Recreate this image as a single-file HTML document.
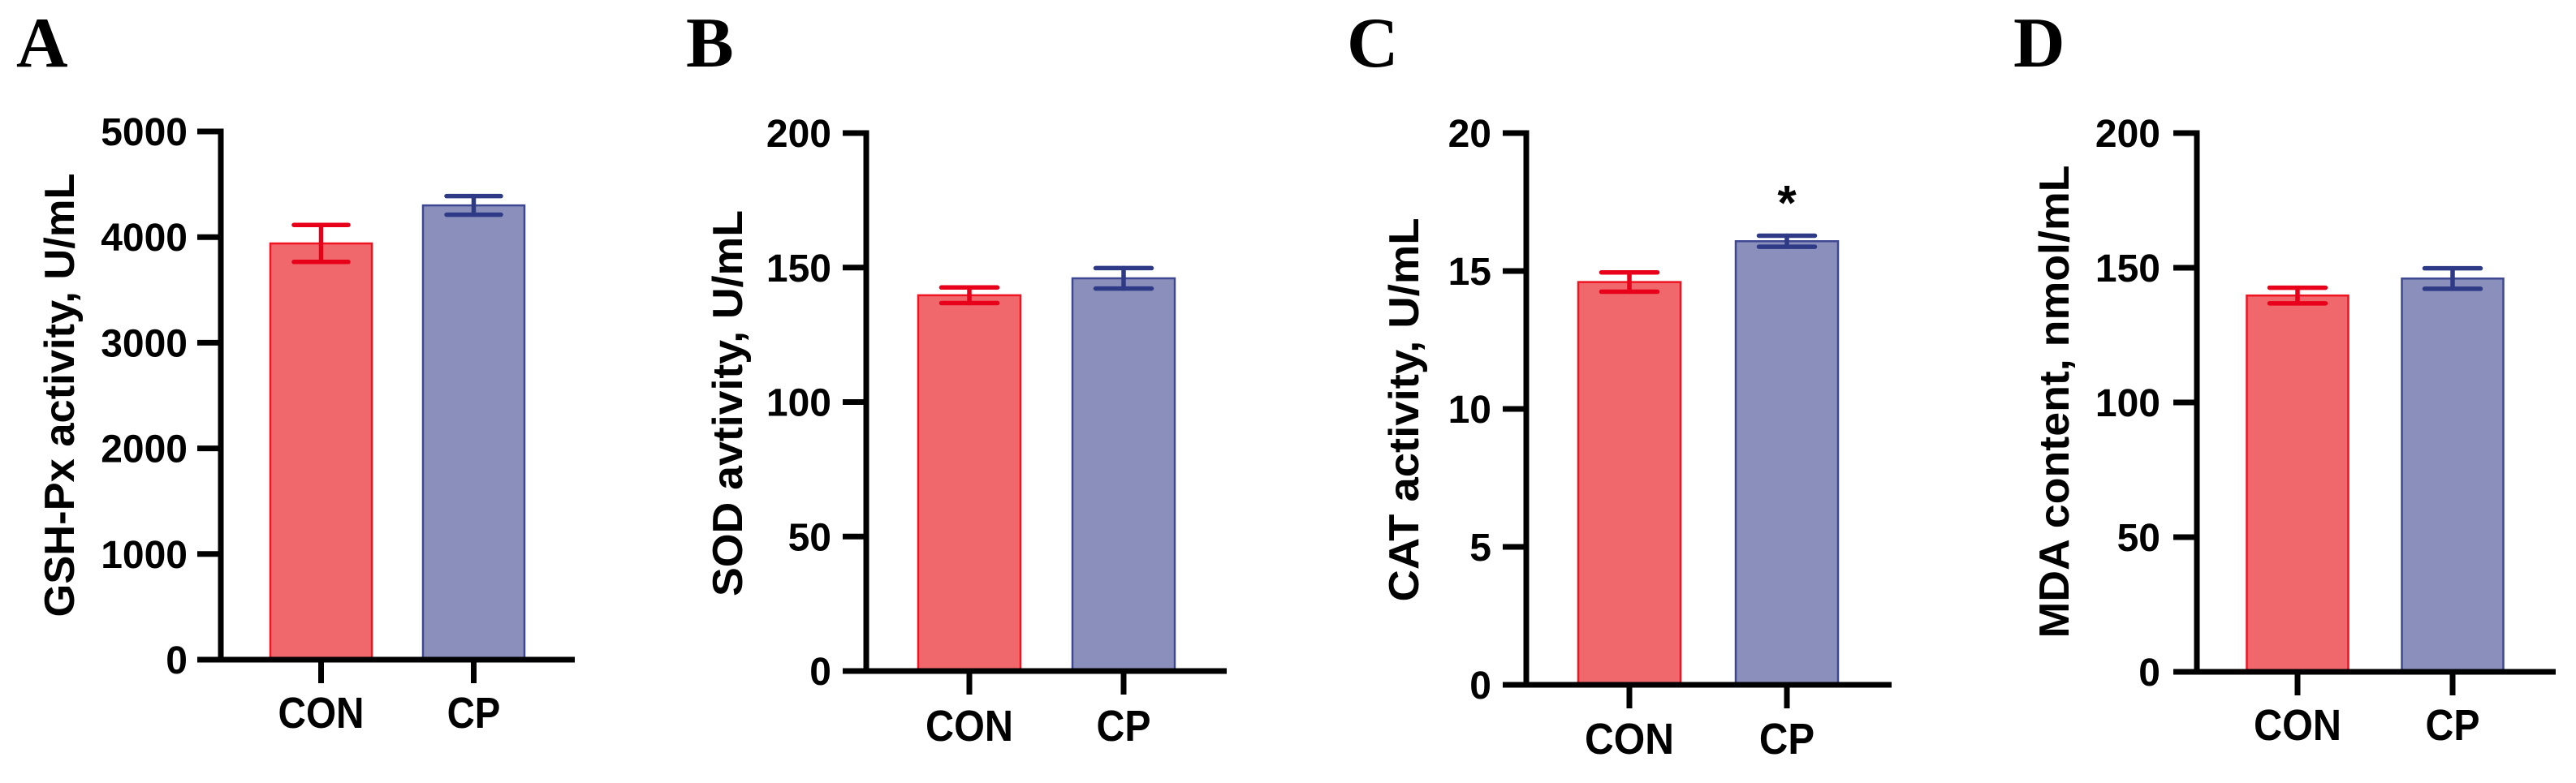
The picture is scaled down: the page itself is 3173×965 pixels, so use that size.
<!DOCTYPE html>
<html><head><meta charset="utf-8"><style>
html,body{margin:0;padding:0;background:#fff;}
svg{display:block;}
</style></head><body>
<svg id="fig" width="3173" height="965" viewBox="0 0 3173 965" xmlns="http://www.w3.org/2000/svg"></svg>
<script>
const categories = ["CON", "CP"];
const panelLetters = ["A", "B", "C", "D"];
const panelTitles = ["GSH-Px activity, U/mL", "SOD avtivity, U/mL", "CAT activity, U/mL", "MDA content, nmol/mL"];
const gshMeans = [3940, 4300];
const gshErr = [175, 88];
const gshTicks = [0, 1000, 2000, 3000, 4000, 5000];
const sodMeans = [139.7, 146];
const sodErr = [2.9, 3.8];
const sodTicks = [0, 50, 100, 150, 200];
const catMeans = [14.6, 16.08];
const catErr = [0.35, 0.2];
const catTicks = [0, 5, 10, 15, 20];
const mdaMeans = [139.7, 146];
const mdaErr = [2.9, 3.8];
const mdaTicks = [0, 50, 100, 150, 200];
const catSig = ["", "*"];

const NS = "http://www.w3.org/2000/svg";
const svg = document.getElementById("fig");
function mk(tag, attrs, parent) {
  const e = document.createElementNS(NS, tag);
  for (const k in attrs) e.setAttribute(k, attrs[k]);
  (parent || svg).appendChild(e);
  return e;
}
const fills = ["#f0686c", "#8a90bb"];
const strokes = ["#ee1422", "#3e4792"];
const errCols = ["#e8001a", "#2e3a86"];

const layouts = [
  {ax:272, y0:813, yTop:162, xEnd:708, cx:[395.5,583.5], bw:125, cap:67, lr:231, tcx:74, tcy:487, tlen:547, tfs:52, xb:897, lx:20, xlw:106},
  {ax:1067, y0:827, yTop:164, xEnd:1511, cx:[1194,1384], bw:126, cap:69, lr:1024, tcx:897, tcy:497, tlen:476, tfs:52, xb:913, lx:845, xlw:108},
  {ax:1880, y0:844, yTop:164, xEnd:2330, cx:[2007,2201], bw:126, cap:69, lr:1837, tcx:1730, tcy:505, tlen:473, tfs:52, xb:929, lx:1659, xlw:110},
  {ax:2706, y0:828, yTop:164, xEnd:3148, cx:[2830,3021], bw:125, cap:69, lr:2661, tcx:2531, tcy:495, tlen:583, tfs:52, xb:912, lx:2480, xlw:108}
];
const panelData = [
  {means:gshMeans, err:gshErr, ticks:gshTicks, sig:["",""]},
  {means:sodMeans, err:sodErr, ticks:sodTicks, sig:["",""]},
  {means:catMeans, err:catErr, ticks:catTicks, sig:catSig},
  {means:mdaMeans, err:mdaErr, ticks:mdaTicks, sig:["",""]}
];
const FONT = "'Liberation Sans', Arial, sans-serif";

layouts.forEach((L, p) => {
  const D = panelData[p];
  const g = mk("g", {});
  
  
  const yMax = D.ticks[D.ticks.length - 1];
  const y = v => L.y0 - (v / yMax) * (L.y0 - L.yTop);

  const letter = mk("text", {x:L.lx, y:82, "font-family":"'Liberation Serif', 'Times New Roman', serif", "font-weight":"bold", "font-size":88, fill:"#000"}, g);
  letter.textContent = panelLetters[p];
  
  

  D.means.forEach((m, i) => {
    const r = mk("rect", {x:L.cx[i] - L.bw/2, y:y(m), width:L.bw, height:L.y0 - y(m), fill:fills[i], stroke:strokes[i], "stroke-width":2.5}, g);
    
    
    const eg = mk("g", {stroke:errCols[i], "stroke-width":5.5, "stroke-linecap":"round"}, g);
    
    
    const hi = y(m + D.err[i]), lo = y(m - D.err[i]);
    mk("line", {x1:L.cx[i], x2:L.cx[i], y1:hi, y2:lo}, eg);
    mk("line", {x1:L.cx[i] - L.cap/2, x2:L.cx[i] + L.cap/2, y1:hi, y2:hi}, eg);
    mk("line", {x1:L.cx[i] - L.cap/2, x2:L.cx[i] + L.cap/2, y1:lo, y2:lo}, eg);
    if (D.sig[i]) {
      const s = mk("text", {x:L.cx[i], y:hi - 20, "text-anchor":"middle", "font-family":FONT, "font-weight":"bold", "font-size":60, fill:"#000"}, g);
      s.textContent = D.sig[i];
      
      
    }
    const tk = mk("line", {x1:L.cx[i], x2:L.cx[i], y1:L.y0, y2:L.y0 + 29, stroke:"#000", "stroke-width":7}, g);
    
    
    const xl = mk("text", {x:L.cx[i], y:L.xb, "text-anchor":"middle", "font-family":FONT, "font-weight":"bold", "font-size":54, fill:"#000", textLength:(i === 0 ? L.xlw : L.xlw * 0.62), lengthAdjust:"spacingAndGlyphs"}, g);
    xl.textContent = categories[i];
    
    
  });

  const ya = mk("line", {x1:L.ax, x2:L.ax, y1:L.yTop - 3.5, y2:L.y0, stroke:"#000", "stroke-width":7}, g);
  
  
  const xa = mk("line", {x1:L.ax - 29, x2:L.xEnd, y1:L.y0, y2:L.y0, stroke:"#000", "stroke-width":7}, g);
  
  

  D.ticks.forEach(t => {
    const ty = y(t);
    if (t !== 0) {
      const tl = mk("line", {x1:L.ax - 29, x2:L.ax, y1:ty, y2:ty, stroke:"#000", "stroke-width":7}, g);
      
      
    }
    const lb = mk("text", {x:L.lr, y:ty + 17, "text-anchor":"end", "font-family":FONT, "font-weight":"bold", "font-size":48, fill:"#000"}, g);
    lb.textContent = String(t);
    
    
  });

  const tt = mk("text", {x:0, y:0, transform:"translate(" + L.tcx + "," + L.tcy + ") rotate(-90)", "text-anchor":"middle", "dominant-baseline":"central", "font-family":FONT, "font-weight":"bold", "font-size":L.tfs, fill:"#000", textLength:L.tlen, lengthAdjust:"spacingAndGlyphs"}, g);
  tt.textContent = panelTitles[p];
  
  
});
</script>
</body></html>
